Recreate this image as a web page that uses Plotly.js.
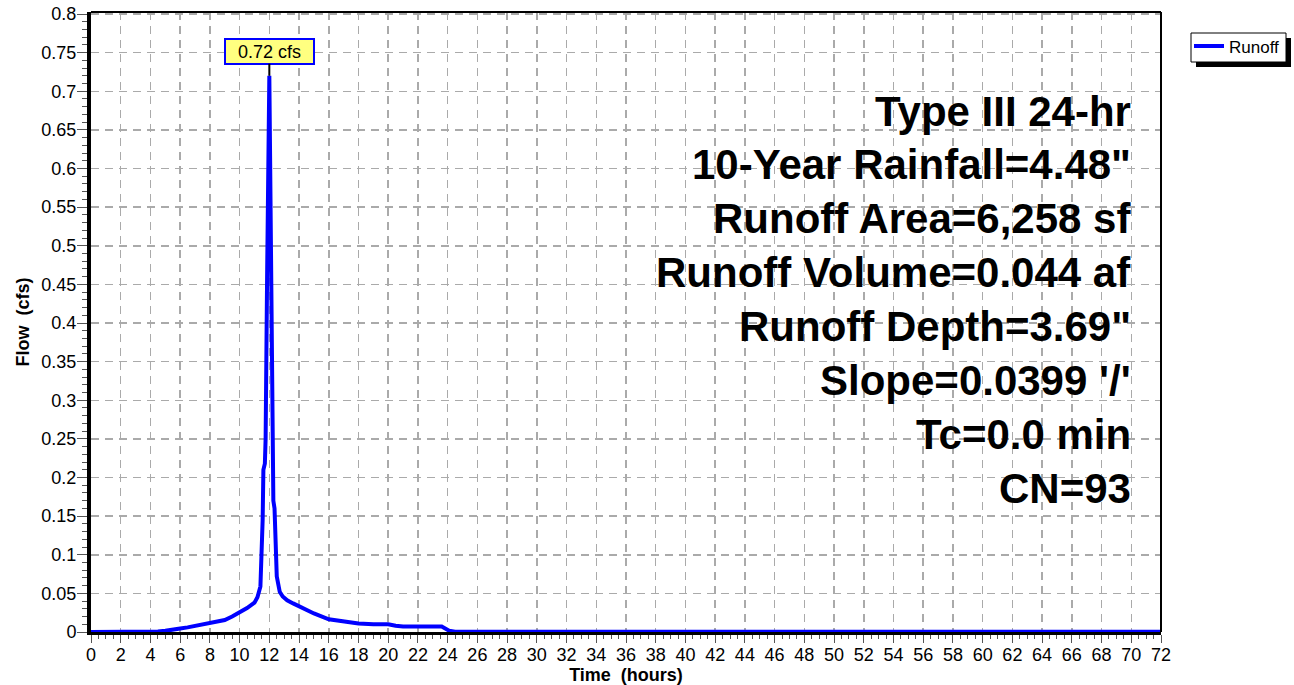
<!DOCTYPE html>
<html>
<head>
<meta charset="utf-8">
<script src="https://cdn.plot.ly/plotly-3.0.1.min.js"></script>
<style>
html,body{margin:0;padding:0;background:#fff;}
#chart{width:1294px;height:685px;}
</style>
</head>
<body>
<div id="chart"></div>
<script>
// ---- data ----
var hours = [0, 4.0, 4.5, 5.0, 5.5, 6.0, 6.5, 7.0, 7.5, 8.0, 8.5, 9.0, 9.5, 10.0, 10.5, 11.0, 11.2, 11.4, 11.45, 11.5, 11.55, 11.6, 11.7, 11.75, 11.8, 11.85, 12.0, 12.1, 12.15, 12.2, 12.25, 12.27, 12.35, 12.45, 12.5, 12.6, 12.7, 12.9, 13.2, 13.6, 14.0, 15.0, 16.0, 17.0, 18.0, 19.0, 20.0, 20.5, 21.0, 22.0, 23.0, 23.6, 24.1, 24.5, 72];
var flow  = [0, 0, 0.0008, 0.0015, 0.0035, 0.0044, 0.006, 0.0077, 0.0093, 0.011, 0.013, 0.0155, 0.02, 0.025, 0.031, 0.038, 0.045, 0.059, 0.083, 0.136, 0.145, 0.21, 0.218, 0.25, 0.42, 0.46, 0.72, 0.46, 0.40, 0.26, 0.235, 0.17, 0.16, 0.08, 0.072, 0.062, 0.052, 0.046, 0.041, 0.037, 0.033, 0.024, 0.0165, 0.014, 0.011, 0.010, 0.010, 0.008, 0.007, 0.007, 0.007, 0.007, 0.0017, 0.0004, 0.0004];
var seriesName = "Runoff";
var peakHour = 12.0;
var peakFlow = 0.72;
var peakLabel = "0.72 cfs";
var infoLines = ["Type III 24-hr", "10-Year Rainfall=4.48\"", "Runoff Area=6,258 sf", "Runoff Volume=0.044 af", "Runoff Depth=3.69\"", "Slope=0.0399 '/'", "Tc=0.0 min", "CN=93"];
var chartTitle = "Hydrograph";
var xTitle = "Time\u00a0\u00a0(hours)";
var yTitle = "Flow\u00a0\u00a0(cfs)";

// ---- layout helpers ----
var W = 1294, H = 685;
var mL = 91, mR = 133, mT = 12, mB = 53;
var plotW = W - mL - mR, plotH = H - mT - mB;
function px2paperY(py){ return (H - mB - py) / plotH; }
function px2paperX(px){ return (px - mL) / plotW; }

var FONT = "Liberation Sans, Arial, Helvetica, sans-serif";

var annotations = [];
infoLines.forEach(function(t, i){
  annotations.push({
    text: t, xref: 'paper', yref: 'paper',
    x: px2paperX(1133), y: px2paperY(111 + i * 53.9),
    xanchor: 'right', yanchor: 'middle', showarrow: false,
    font: {family: FONT, size: 42, color: '#000', weight: 'bold'}
  });
});
annotations.push({
  text: peakLabel, x: peakHour, y: peakFlow, xref: 'x', yref: 'y',
  showarrow: true, arrowhead: 0, arrowwidth: 2, arrowcolor: '#000',
  ax: 0, ay: -24.5, standoff: 0,
  bgcolor: '#ffff80', bordercolor: '#0000ff', borderwidth: 2, borderpad: 1,
  width: 85, height: 21,
  font: {family: FONT, size: 18, color: '#000'}
});
annotations.push({
  text: chartTitle, xref: 'paper', yref: 'paper',
  x: px2paperX(497), y: px2paperY(-2), xanchor: 'center', yanchor: 'bottom',
  showarrow: false, font: {family: FONT, size: 20, color: '#0000ff', weight: 'bold'}
});

// legend frame (drawn as shapes so the drop shadow sits behind it)
var legBox = {x0: 1191, x1: 1286, y0: 33, y1: 62};
var shapes = [
  // top and right frame
  {type:'line', xref:'paper', yref:'paper', x0:0, x1:1, y0:1, y1:1, line:{color:'#000', width:2}},
  {type:'line', xref:'paper', yref:'paper', x0:1, x1:1, y0:0, y1:1, line:{color:'#000', width:2}},
  // legend drop shadow: thick L along the right and bottom edges
  {type:'path', xref:'paper', yref:'paper', layer:'above',
   path: 'M' + px2paperX(legBox.x1 + 2.5) + ',' + px2paperY(legBox.y0 + 5) +
         ' L' + px2paperX(legBox.x1 + 2.5) + ',' + px2paperY(legBox.y1 + 2.5) +
         ' L' + px2paperX(legBox.x0 + 5) + ',' + px2paperY(legBox.y1 + 2.5),
   line:{width:5, color:'#000'}},
  // legend box
  {type:'rect', xref:'paper', yref:'paper', layer:'above',
   x0:px2paperX(legBox.x0), x1:px2paperX(legBox.x1), y0:px2paperY(legBox.y1), y1:px2paperY(legBox.y0),
   line:{width:1, color:'#000'}, fillcolor:'#fff'}
];

var trace = {
  x: hours, y: flow, type: 'scatter', mode: 'lines', name: seriesName,
  line: {color: '#0000ff', width: 4}, showlegend: true, cliponaxis: true
};

var layout = {
  width: W, height: H,
  margin: {l: mL, r: mR, t: mT, b: mB, pad: 0, autoexpand: false},
  paper_bgcolor: '#fff', plot_bgcolor: '#fff',
  font: {family: FONT, size: 18, color: '#000'},
  showlegend: true,
  legend: {
    x: px2paperX(1189), y: px2paperY(28.5), xanchor: 'left', yanchor: 'top',
    bgcolor: 'rgba(0,0,0,0)', borderwidth: 0,
    font: {family: FONT, size: 17, color: '#000'},
    itemwidth: 30, tracegroupgap: 0
  },
  xaxis: {
    range: [0, 72], tick0: 0, dtick: 2, autorange: false,
    showline: true, linecolor: '#000', linewidth: 3,
    ticks: 'outside', ticklen: 8, tickwidth: 1, tickcolor: '#555',
    ticklabelstandoff: -4,
    tickfont: {family: FONT, size: 18, color: '#000'},
    showgrid: true, gridcolor: '#aaaaaa', gridwidth: 1.5, griddash: '8px,6px',
    zeroline: false,
    minor: {dtick: 0.5, tick0: 0, ticks: 'outside', ticklen: 4, tickwidth: 1, tickcolor: '#555', showgrid: false},
    title: {text: xTitle, font: {family: FONT, size: 18, color: '#000', weight: 'bold'}, standoff: 2}
  },
  yaxis: {
    range: [0, 0.8026], tick0: 0, dtick: 0.05, autorange: false,
    showline: true, linecolor: '#000', linewidth: 4,
    ticks: 'outside', ticklen: 10, tickwidth: 1, tickcolor: '#555',
    ticklabelstandoff: -3,
    tickfont: {family: FONT, size: 18, color: '#000'},
    showgrid: true, gridcolor: '#aaaaaa', gridwidth: 1.5, griddash: '8px,6px',
    zeroline: false,
    minor: {dtick: 0.01, tick0: 0, ticks: 'outside', ticklen: 5, tickwidth: 1, tickcolor: '#555', showgrid: false},
    title: {text: yTitle, font: {family: FONT, size: 18, color: '#000', weight: 'bold'}, standoff: 8}
  },
  annotations: annotations,
  shapes: shapes
};

Plotly.newPlot('chart', [trace], layout, {displayModeBar: false, staticPlot: true});
</script>
</body>
</html>
